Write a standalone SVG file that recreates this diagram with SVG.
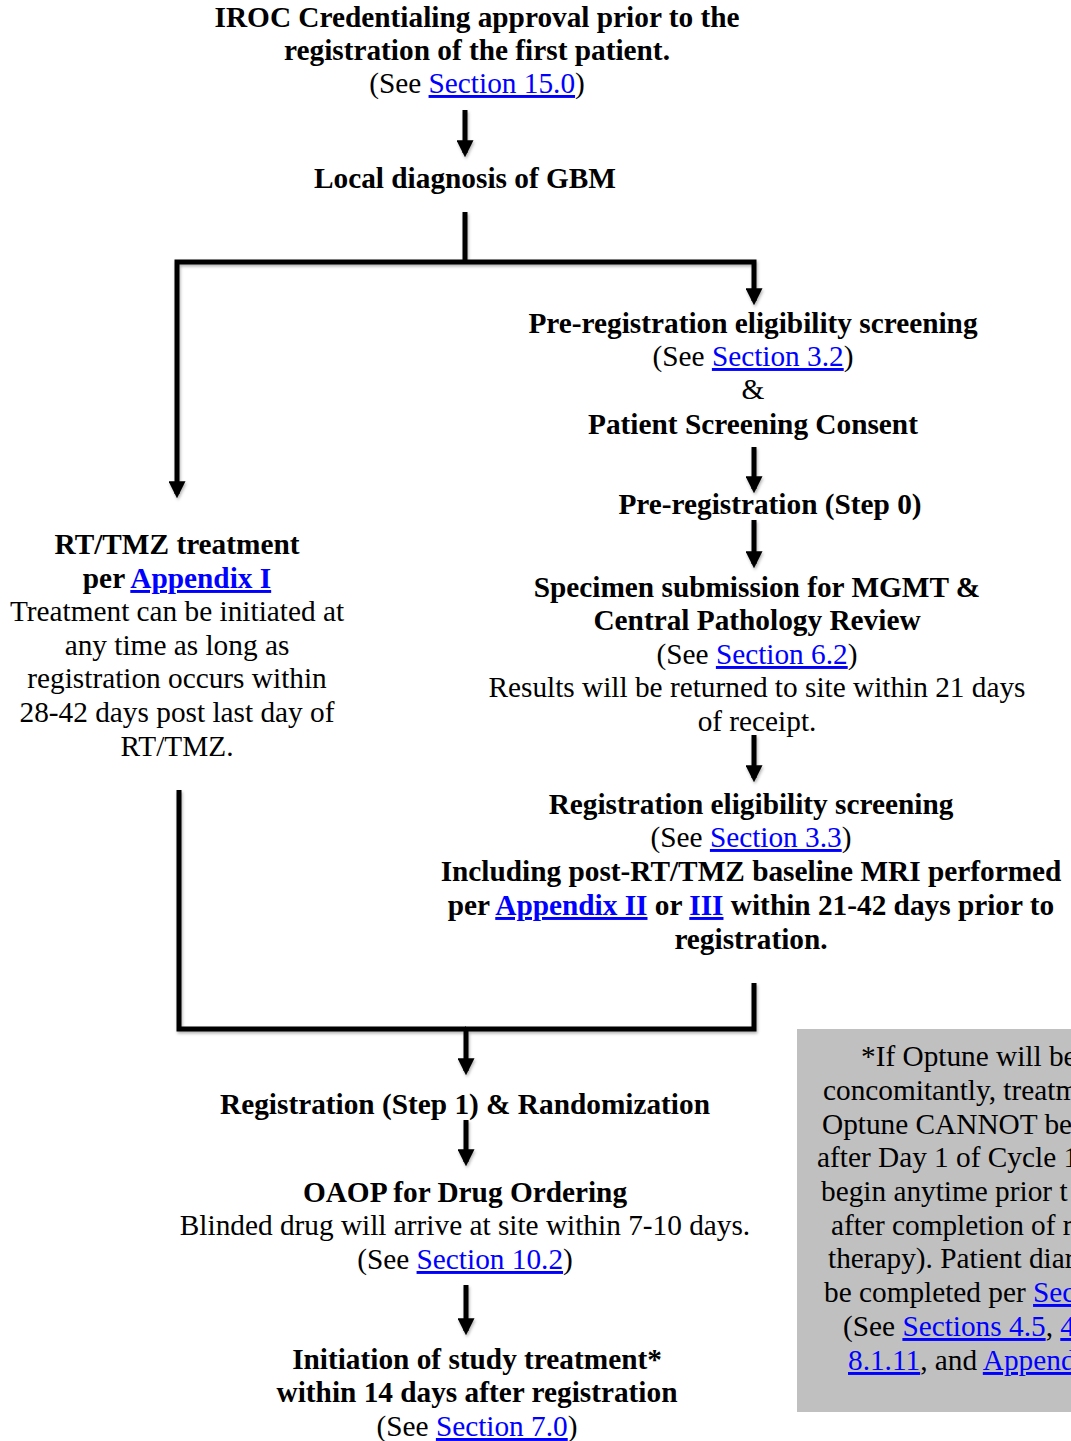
<svg xmlns="http://www.w3.org/2000/svg" width="1071" height="1441" viewBox="0 0 1071 1441">
<defs>
<style>
text{font-family:"Liberation Serif","Times New Roman",serif;font-size:29.3px;fill:#000}
.b{font-weight:bold}
.c{text-anchor:middle}
.lk{fill:#0000ff;text-decoration:underline}
.conn path{fill:none;stroke:#000;stroke-width:5;stroke-linejoin:miter;stroke-linecap:butt}
</style>
<marker id="ah" markerUnits="userSpaceOnUse" markerWidth="17" markerHeight="17" viewBox="0 0 16 16" refX="12" refY="8" orient="auto">
<path d="M0,0 L16,8 L0,16 z" fill="#000"/>
</marker>
<filter id="sh" x="-5%" y="-5%" width="110%" height="110%">
<feDropShadow dx="1" dy="2" stdDeviation="1.5" flood-color="#000" flood-opacity="0.3"/>
</filter>
</defs>
<rect width="1071" height="1441" fill="#fff"/>

<g id="connectors" class="conn" filter="url(#sh)">
<path d="M465,110 V153" marker-end="url(#ah)"/>
<path d="M465,212 V262"/>
<path d="M465,262 H177 V494" marker-end="url(#ah)"/>
<path d="M465,262 H754 V301" marker-end="url(#ah)"/>
<path d="M754,447 V489" marker-end="url(#ah)"/>
<path d="M754,520 V564" marker-end="url(#ah)"/>
<path d="M754,735 V778" marker-end="url(#ah)"/>
<path d="M754,983 V1029 H465"/>
<path d="M179,790 V1029 H466"/>
<path d="M466,1029 V1071" marker-end="url(#ah)"/>
<path d="M466,1120 V1162" marker-end="url(#ah)"/>
<path d="M466,1285 V1331" marker-end="url(#ah)"/>
</g>

<g id="iroc">
<text class="b c" x="477" y="27">IROC Credentialing approval prior to the</text>
<text class="b c" x="477" y="60">registration of the first patient.</text>
<text class="c" x="477" y="93">(See <tspan class="lk">Section 15.0</tspan>)</text>
</g>

<g id="diagnosis">
<text class="b c" x="465" y="188">Local diagnosis of GBM</text>
</g>

<g id="prereg-screening">
<text class="b c" x="753" y="333">Pre-registration eligibility screening</text>
<text class="c" x="753" y="366">(See <tspan class="lk">Section 3.2</tspan>)</text>
<text class="c" x="753" y="399">&amp;</text>
<text class="b c" x="753" y="434">Patient Screening Consent</text>
</g>

<g id="prereg-step0">
<text class="b c" x="770" y="514">Pre-registration (Step 0)</text>
</g>

<g id="specimen">
<text class="b c" x="757" y="597">Specimen submission for MGMT &amp;</text>
<text class="b c" x="757" y="630">Central Pathology Review</text>
<text class="c" x="757" y="664">(See <tspan class="lk">Section 6.2</tspan>)</text>
<text class="c" x="757" y="697">Results will be returned to site within 21 days</text>
<text class="c" x="757" y="731">of receipt.</text>
</g>

<g id="reg-screening">
<text class="b c" x="751" y="814">Registration eligibility screening</text>
<text class="c" x="751" y="847">(See <tspan class="lk">Section 3.3</tspan>)</text>
<text class="b c" x="751" y="881">Including post-RT/TMZ baseline MRI performed</text>
<text class="b c" x="751" y="915">per <tspan class="lk">Appendix II</tspan> or <tspan class="lk">III</tspan> within 21-42 days prior to</text>
<text class="b c" x="751" y="949">registration.</text>
</g>

<g id="rt-tmz">
<text class="b c" x="177" y="554">RT/TMZ treatment</text>
<text class="b c" x="177" y="588">per <tspan class="lk">Appendix I</tspan></text>
<text class="c" x="177" y="621">Treatment can be initiated at</text>
<text class="c" x="177" y="655">any time as long as</text>
<text class="c" x="177" y="688">registration occurs within</text>
<text class="c" x="177" y="722">28-42 days post last day of</text>
<text class="c" x="177" y="756">RT/TMZ.</text>
</g>

<g id="registration">
<text class="b c" x="465" y="1114">Registration (Step 1) &amp; Randomization</text>
</g>

<g id="oaop">
<text class="b c" x="465" y="1202">OAOP for Drug Ordering</text>
<text class="c" x="465" y="1235">Blinded drug will arrive at site within 7-10 days.</text>
<text class="c" x="465" y="1269">(See <tspan class="lk">Section 10.2</tspan>)</text>
</g>

<g id="initiation">
<text class="b c" x="477" y="1369">Initiation of study treatment*</text>
<text class="b c" x="477" y="1402">within 14 days after registration</text>
<text class="c" x="477" y="1436">(See <tspan class="lk">Section 7.0</tspan>)</text>
</g>

<g id="optune-note">
<rect x="797" y="1029" width="300" height="383" fill="#c0c0c0"/>
<text x="861" y="1066">*If Optune will be</text>
<text x="823" y="1100">concomitantly, treatm</text>
<text x="822" y="1134">Optune CANNOT be</text>
<text x="817" y="1167">after Day 1 of Cycle 1</text>
<text x="821" y="1201">begin anytime prior t</text>
<text x="831" y="1235">after completion of r</text>
<text x="828" y="1268">therapy). Patient diar</text>
<text x="824" y="1302">be completed per <tspan class="lk">Sec</tspan></text>
<text x="843" y="1336">(See <tspan class="lk">Sections 4.5</tspan>, <tspan class="lk">4</tspan></text>
<text x="848" y="1370"><tspan class="lk">8.1.11</tspan>, and <tspan class="lk">Append</tspan></text>
</g>
</svg>
